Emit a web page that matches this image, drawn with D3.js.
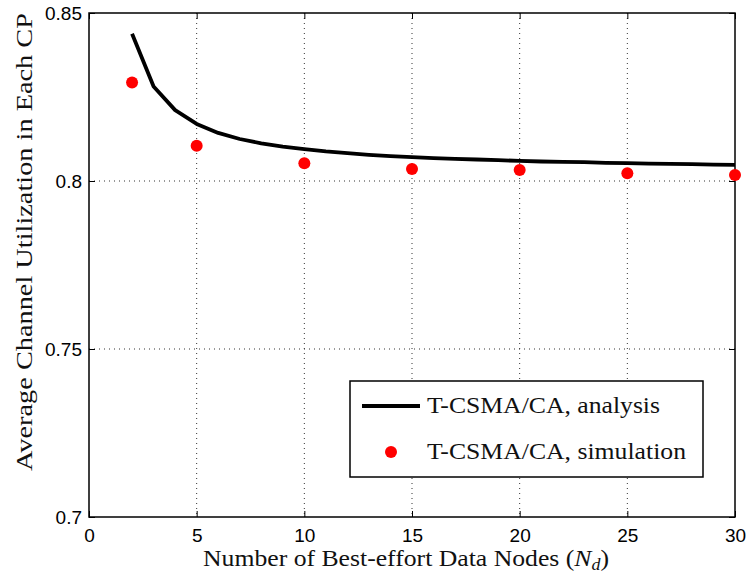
<!DOCTYPE html>
<html><head><meta charset="utf-8">
<script src="https://cdn.jsdelivr.net/npm/d3@7"></script>
<style>body{margin:0;background:#fff}</style>
</head><body>
<svg id="c" width="746" height="576"></svg>
<script>
const analysisN = [2,3,4,5,6,7,8,9,10,11,12,13,14,15,16,17,18,19,20,21,22,23,24,25,26,27,28,29,30];
const analysisU = [0.8438,0.8281,0.8211,0.8170,0.8143,0.8125,0.8112,0.8102,0.8095,0.8088,0.8083,0.8078,0.8074,0.8071,0.8068,0.8066,0.8064,0.8062,0.8060,0.8058,0.8057,0.8056,0.8054,0.8053,0.8052,0.8051,0.8050,0.8049,0.8048];
const simN = [2,5,10,15,20,25,30];
const simU = [0.8293,0.8105,0.8053,0.8036,0.8033,0.8023,0.8018];
const xTicks = [0,5,10,15,20,25,30];
const yTicks = [0.7,0.75,0.8,0.85];
const legendLabels = ["T-CSMA/CA, analysis","T-CSMA/CA, simulation"];

const svg = d3.select("#c");
const L=89, R=735, T=13, B=517;
const x = d3.scaleLinear().domain([0,30]).range([L,R]);
const y = d3.scaleLinear().domain([0.7,0.85]).range([B,T]);
const serif = "'Liberation Serif','Times New Roman',serif";

// grid
const g = svg.append("g");
g.selectAll(".gx").data(xTicks.filter(d=>d>0&&d<30)).enter().append("line")
 .attr("x1",d=>x(d)).attr("x2",d=>x(d)).attr("y1",T).attr("y2",B)
 .attr("stroke","#333").attr("stroke-width",1).attr("stroke-dasharray","1,4");
g.selectAll(".gy").data(yTicks.filter(d=>d>0.7&&d<0.85)).enter().append("line")
 .attr("y1",d=>y(d)).attr("y2",d=>y(d)).attr("x1",L).attr("x2",R)
 .attr("stroke","#333").attr("stroke-width",1).attr("stroke-dasharray","1,4");

// axes
svg.append("g").attr("transform",`translate(0,${B})`)
 .call(d3.axisBottom(x).tickValues(xTicks).tickSize(-6).tickPadding(12).tickFormat(d3.format("d")));
svg.append("g").attr("transform",`translate(${L},0)`)
 .call(d3.axisLeft(y).tickValues(yTicks).tickSize(-6).tickPadding(7).tickFormat(d=>String(+d.toFixed(2))));
svg.append("g").attr("transform",`translate(0,${T})`)
 .call(d3.axisTop(x).tickValues(xTicks).tickSize(-6).tickFormat(""));
svg.append("g").attr("transform",`translate(${R},0)`)
 .call(d3.axisRight(y).tickValues(yTicks).tickSize(-6).tickFormat(""));
svg.selectAll(".domain").remove();
svg.selectAll(".tick line").attr("stroke","#000");
svg.selectAll(".tick text").attr("font-family","'Liberation Sans',Arial,sans-serif").attr("font-size",19).attr("fill","#000");
svg.append("rect").attr("x",L).attr("y",T).attr("width",R-L).attr("height",B-T)
 .attr("fill","none").attr("stroke","#000").attr("stroke-width",1.5);

// line
svg.append("path").datum(analysisN.map((n,i)=>[n,analysisU[i]]))
 .attr("d",d3.line().x(d=>x(d[0])).y(d=>y(d[1])))
 .attr("fill","none").attr("stroke","#000").attr("stroke-width",3.8).attr("stroke-linejoin","round");
// points
svg.selectAll(".pt").data(simN.map((n,i)=>[n,simU[i]])).enter().append("circle")
 .attr("cx",d=>x(d[0])).attr("cy",d=>y(d[1])).attr("r",6).attr("fill","#ff0000");

// titles
svg.append("text").attr("x",406).attr("y",566).attr("text-anchor","middle")
 .attr("font-family",serif).attr("font-size",23).attr("fill","#111")
 .attr("textLength",406).attr("lengthAdjust","spacingAndGlyphs")
 .html("Number of Best-effort Data Nodes (<tspan font-style='italic'>N</tspan><tspan font-style='italic' font-size='16' dy='4'>d</tspan><tspan dy='-4'>)</tspan>");
svg.append("text").attr("transform","translate(32,242) rotate(-90)").attr("text-anchor","middle")
 .attr("font-family",serif).attr("font-size",23).attr("fill","#111")
 .attr("textLength",458).attr("lengthAdjust","spacingAndGlyphs")
 .text("Average Channel Utilization in Each CP");

// legend
const lg = svg.append("g");
lg.append("rect").attr("x",350).attr("y",381).attr("width",353).attr("height",96)
 .attr("fill","#fff").attr("stroke","#000").attr("stroke-width",1.5);
lg.append("line").attr("x1",362).attr("x2",420).attr("y1",406).attr("y2",406)
 .attr("stroke","#000").attr("stroke-width",3.8);
lg.append("circle").attr("cx",391).attr("cy",452).attr("r",6).attr("fill","#ff0000");
const lw=[233,259];
lg.selectAll(".lt").data(legendLabels).enter().append("text")
 .attr("x",427).attr("y",(d,i)=>413+i*46)
 .attr("font-family",serif).attr("font-size",23).attr("fill","#111")
 .attr("textLength",(d,i)=>lw[i]).attr("lengthAdjust","spacingAndGlyphs")
 .text(d=>d);
</script>
</body></html>
